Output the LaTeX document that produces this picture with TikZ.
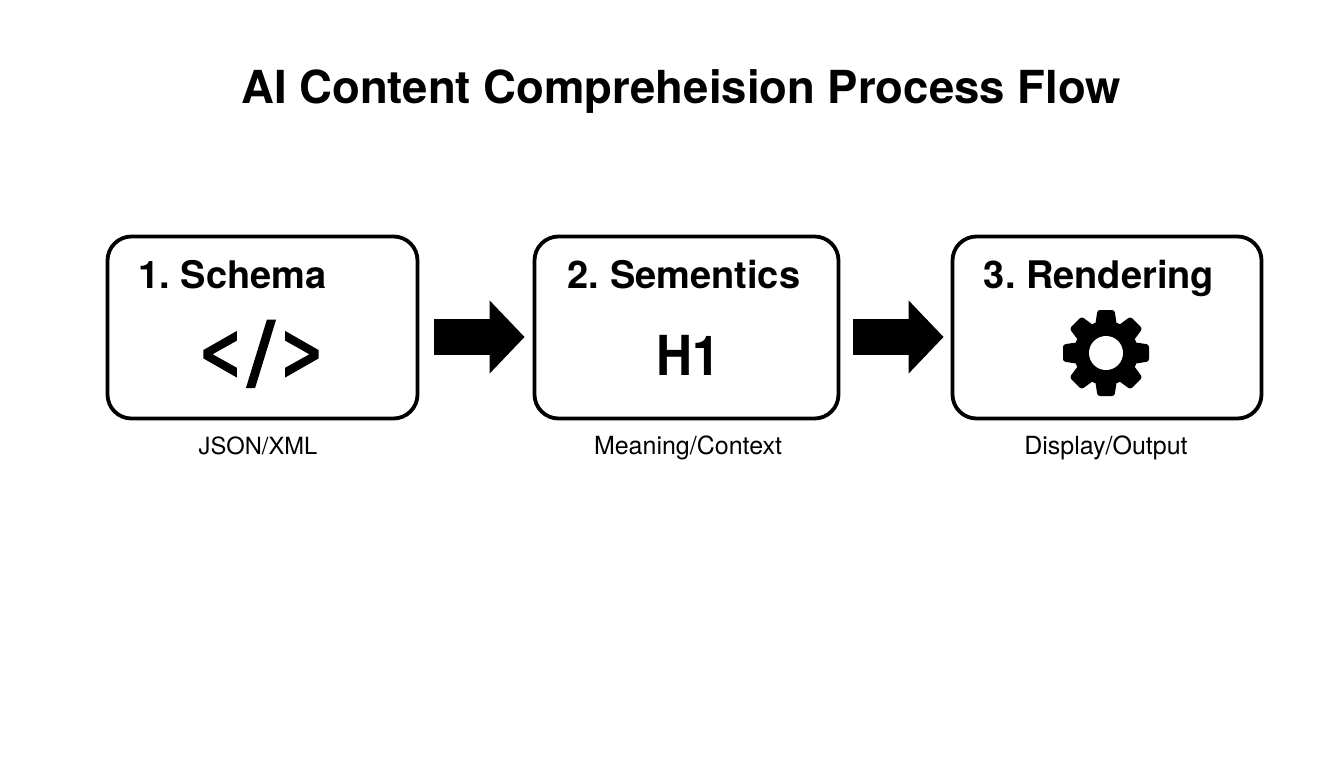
\documentclass[tikz,border=0pt]{standalone}
\usepackage{fontspec}
\usepackage{graphicx}
\setmainfont{TeX Gyre Heros}
\newfontfamily\iconfont[FakeBold=3]{DejaVu Sans}
\usetikzlibrary{arrows.meta}
\tikzset{
  x=1pt,y=-1pt,
  stagebox/.style={draw=black,line width=3.8pt,rounded corners=24pt,fill=white,inner sep=0pt},
  titletext/.style={anchor=base,inner sep=0pt,font=\fontsize{45.5}{50}\selectfont\bfseries},
  headtext/.style={anchor=base,inner sep=0pt,font=\frenchspacing\fontsize{38}{42}\selectfont\bfseries},
  subtext/.style={anchor=base,inner sep=0pt,font=\fontsize{25}{28}\selectfont},
  icontext/.style={anchor=base,inner sep=0pt,font=\fontsize{52}{60}\selectfont\bfseries},
  blockarrow/.style={draw=black,line width=36.5pt,-{Triangle[length=35pt,width=71pt,sep=0pt]}},
  geartooth/.style={fill=black,rounded corners=2.5pt},
}
\begin{document}
\begin{tikzpicture}
\useasboundingbox (0,0) rectangle (1344,768);
\fill[white] (0,0) rectangle (1344,768);
\node[titletext] (title) at (681,103) {AI Content Compreheision Process Flow};

\node[stagebox,minimum width=310pt,minimum height=182pt] (s1) at (262.5,327.5) {};
\node[stagebox,minimum width=304pt,minimum height=182pt] (s2) at (686.5,327.5) {};
\node[stagebox,minimum width=309pt,minimum height=182pt] (s3) at (1107,327.5) {};

\node[headtext] (h1) at (232.5,288) {1. Schema};
\node[headtext] (h2) at (684,288) {2. Sementics};
\node[headtext] (h3) at (1099,288) {3. Rendering};

\node[subtext,font=\fontsize{23.7}{28}\selectfont] (l1) at (258,454.5) {JSON/XML};
\node[subtext] (l2) at (688,454.5) {Meaning/Context};
\node[subtext] (l3) at (1106,454.5) {Display/Output};

\node[icontext,font=\fontsize{64}{70}\selectfont\iconfont] (i1) at (261,379.5) {\scalebox{.8}[1.26]{<}\kern6pt\scalebox{1.25}[1.26]{/}\kern6pt\scalebox{.8}[1.26]{>}};
\node[icontext] (i2) at (688,375) {\scalebox{.96}[1.06]{H1}};

\coordinate (g) at (1106,353);
\fill[black] (g) circle[radius=32pt];
\foreach \a in {0,45,...,315}{
  \fill[geartooth,shift={(g)},rotate=\a] (-12,-20) -- (-8.5,-43) -- (8.5,-43) -- (12,-20) -- cycle;
}
\fill[white] (g) circle[radius=17pt];

\draw[blockarrow,shorten <=15pt,shorten >=8pt] ([yshift=-9.5pt]s1.east) -- ([yshift=-9.5pt]s2.west);
\draw[blockarrow,shorten <=13pt,shorten >=7pt] ([yshift=-9.5pt]s2.east) -- ([yshift=-9.5pt]s3.west);
\end{tikzpicture}
\end{document}
